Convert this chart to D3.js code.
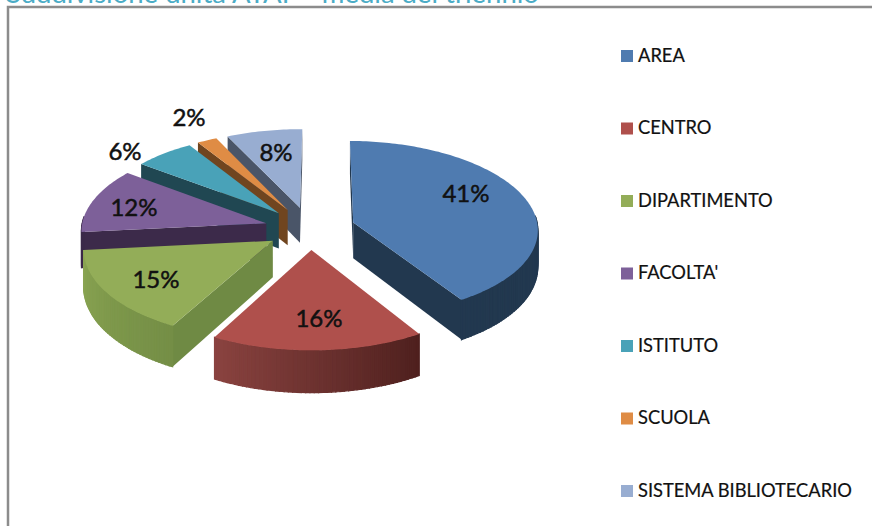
<!DOCTYPE html>
<html>
<head>
<meta charset="utf-8">
<style>
html, body { margin: 0; padding: 0; background: #fff; overflow: hidden; }
text { font-family: Lato, "Open Sans", sans-serif; }
</style>
<script src="https://cdn.jsdelivr.net/npm/d3@7"></script>
</head>
<body>
<script>
//Chart data
var categories = ["AREA", "CENTRO", "DIPARTIMENTO", "FACOLTA'", "ISTITUTO", "SCUOLA", "SISTEMA BIBLIOTECARIO"];
var values = [41.4, 16, 15, 12, 6, 2, 7.6];
var topColors = ["#4f7bb0", "#af504c", "#93ad58", "#7d6099", "#49a2b8", "#df8c45", "#98add1"];
var sideColors = ["#22384f", "#7c3c3a", "#6f8a44", "#3c2a4a", "#204752", "#70451f", "#4a5568"];
var wallLeft = ["#22384f", "#8a4340", "#8aa552", "#3c2a4a", "#204752", "#70451f", "#4a5568"];
var wallRight = ["#22384f", "#4e201e", "#748e46", "#3c2a4a", "#204752", "#70451f", "#4a5568"];
var drawOrder = [6, 5, 4, 0, 3, 2, 1];
var title = "Suddivisione unità ATAP - media del triennio";

var width = 872;
var height = 526;

//Pie layout, clockwise from twelve o'clock
var pie = d3.pie().sort(null).value(function(d) { return d; })
    .startAngle(0.008).endAngle(2 * Math.PI + 0.008);
var arcs = pie(values);

//Tilted disc with a little perspective
var cx = 310, cy = 228, rx = 184, ry = 87, persp = 0.12, explode = 0.245, depth = 36, lift = 5;

function project(a, r, mid, down) {
    var X = explode * Math.sin(mid) + r * Math.sin(a);
    var Y = -explode * Math.cos(mid) - r * Math.cos(a);
    var s = 1 / (1 - persp * Y);
    return [cx + rx * X * s, cy - lift * r + ry * Y * s + (down ? depth * s : 0)];
}

var svg = d3.select("body")
    .append("svg")
    .attr("width", width)
    .attr("height", height)
    .style("display", "block");

//Title cut off by the top of the picture
svg.append("text")
    .attr("x", 6)
    .attr("y", 3)
    .attr("fill", "#4bacc6")
    .attr("font-size", 27.5)
    .text(title);

//Frame
svg.append("path")
    .attr("d", "M8,526V7H872")
    .attr("fill", "none")
    .attr("stroke", "#8c8c8c")
    .attr("stroke-width", 2.5);

var line = d3.line();

drawOrder.forEach(function(i) {
    var d = arcs[i];
    var mid = (d.startAngle + d.endAngle) / 2;
    var g = svg.append("g").attr("class", "slice");
    var apexT = project(0, 0, mid, false);
    var apexB = project(0, 0, mid, true);

    //Cut faces, only the ones that turn to the viewer
    var s0 = project(d.startAngle, 1, mid, false);
    var e0 = project(d.endAngle, 1, mid, false);
    if (s0[0] < apexT[0]) {
        g.append("path")
            .attr("d", line([apexT, s0, project(d.startAngle, 1, mid, true), apexB]) + "Z")
            .attr("fill", sideColors[i]);
    }
    if (e0[0] > apexT[0]) {
        g.append("path")
            .attr("d", line([apexT, e0, project(d.endAngle, 1, mid, true), apexB]) + "Z")
            .attr("fill", sideColors[i]);
    }

    //Curved outer wall in thin strips
    var shade = d3.scaleLinear()
        .domain([d.startAngle, d.endAngle])
        .range([wallRight[i], wallLeft[i]])
        .interpolate(d3.interpolateRgb);
    var steps = d3.range(d.startAngle, d.endAngle, 0.02).concat([d.endAngle]);
    steps.slice(0, -1).forEach(function(a, k) {
        var b = steps[k + 1];
        if (Math.cos((a + b) / 2) > 0.02) return;
        g.append("path")
            .attr("d", line([project(a, 1, mid, false), project(b, 1, mid, false),
                             project(b, 1, mid, true), project(a, 1, mid, true)]) + "Z")
            .attr("fill", shade((a + b) / 2))
            .attr("stroke", shade((a + b) / 2))
            .attr("stroke-width", 1.2);
    });

    //Top face
    var rim = steps.map(function(a) { return project(a, 1, mid, false); });
    g.append("path")
        .attr("d", line([apexT].concat(rim)) + "Z")
        .attr("fill", topColors[i]);
});

//Percent labels
var labelPos = [[466, 196], [319, 321], [156, 282], [134, 210], [125, 154], [189, 120], [276, 155]];
svg.selectAll("text.pct")
    .data(values)
    .enter().append("text")
    .attr("class", "pct")
    .attr("x", function(d, i) { return labelPos[i][0]; })
    .attr("y", function(d, i) { return labelPos[i][1]; })
    .attr("text-anchor", "middle")
    .attr("dominant-baseline", "middle")
    .attr("font-size", 24)
    .attr("fill", "#111")
    .attr("stroke", "#111")
    .attr("stroke-width", 0.5)
    .text(function(d) { return Math.round(d) + "%"; });

//Legend on a point scale
var legendY = d3.scalePoint().domain(categories).range([56, 491]);
var legend = svg.selectAll("g.legend")
    .data(categories)
    .enter().append("g")
    .attr("class", "legend")
    .attr("transform", function(d) { return "translate(621," + legendY(d) + ")"; });

legend.append("rect")
    .attr("y", -6)
    .attr("width", 12)
    .attr("height", 12)
    .attr("fill", function(d, i) { return topColors[i]; });

legend.append("text")
    .attr("x", 17)
    .attr("y", 1)
    .attr("dominant-baseline", "middle")
    .attr("font-size", 18.3)
    .attr("fill", "#111")
    .attr("stroke", "#111")
    .attr("stroke-width", 0.2)
    .text(function(d) { return d; });
</script>
</body>
</html>
